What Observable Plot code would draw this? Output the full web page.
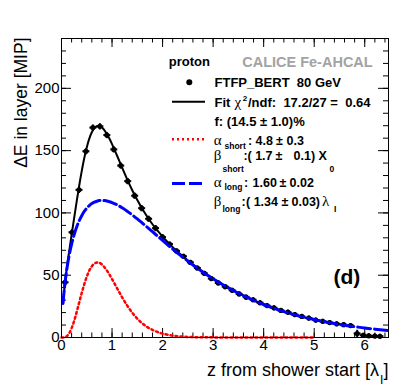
<!DOCTYPE html>
<html><head><meta charset="utf-8">
<script src="https://cdn.jsdelivr.net/npm/d3@7"></script>
<script src="https://cdn.jsdelivr.net/npm/@observablehq/plot@0.6"></script>
<style>
body{margin:0;background:#fff}
svg text{white-space:pre}
</style>
</head><body><div id="chart"></div>
<script>
// ---- data ----
const pointZ = [0.07,0.208,0.346,0.483,0.621,0.759,0.897,1.035,1.172,1.310,1.448,1.586,1.724,1.861,1.999,2.137,2.275,2.413,2.550,2.688,2.826,2.964,3.102,3.239,3.377,3.515,3.653,3.791,3.928,4.066,4.204,4.342,4.480,4.617,4.755,4.893,5.031,5.169,5.306,5.444,5.582,5.720,5.85,5.97,6.08,6.20,6.30];
const pointE = [44.3,84.5,118.5,149.5,168.5,169.5,162.5,151.0,138.0,125.5,113.8,103.8,95.3,87.8,80.6,75.0,69.5,65.2,60.3,55.8,51.5,47.3,43.8,40.8,37.9,35.0,32.4,30.3,27.9,25.6,23.8,21.7,20.3,18.4,16.9,15.6,14.0,13.0,12.0,11.0,10.3,9.6,3.2,1.8,1.4,1.2,1.0];
const pointErr = [2.5,2.5,2.5,2.5,2.5,2.5,2.5,2.5,2.5,2.5,2.5,2.5,2.5,2.5,2.5,2,2,2,2,2,2,2,2,2,2,2,2,2,2,2,2,2,2,2,2,2,2,2,2,2,2,2,3,2,2,2,2];
const binHalfWidth = 0.069;

const fitZ = [0.03,0.05,0.1,0.15,0.2,0.25,0.3,0.35,0.4,0.45,0.5,0.55,0.6,0.65,0.7,0.75,0.8,0.85,0.9,0.95,1.0,1.1,1.2,1.3,1.4,1.5,1.6,1.7,1.8,1.9,2.0,2.2,2.4,2.6,2.8,3.0,3.2,3.4,3.6,3.8,4.0,4.2,4.4,4.6,4.8,5.0,5.2,5.4,5.6,5.72];
const fitE = [27.3,36.6,54.2,68.7,82.4,95.9,109.1,121.8,133.5,143.9,152.6,159.6,164.7,168.0,169.6,169.7,168.6,166.3,163.2,159.5,155.2,145.9,136.3,126.9,118.2,110.3,103.1,96.7,90.9,85.7,81.0,72.5,65.2,58.6,52.6,47.2,42.2,37.7,33.6,29.9,26.5,23.5,20.8,18.4,16.3,14.4,12.7,11.2,9.8,9.1];

const longZ = [0.03,0.05,0.1,0.15,0.2,0.25,0.3,0.35,0.4,0.45,0.5,0.55,0.6,0.65,0.7,0.75,0.8,0.85,0.9,0.95,1.0,1.1,1.2,1.3,1.4,1.5,1.6,1.7,1.8,1.9,2.0,2.2,2.4,2.6,2.8,3.0,3.2,3.4,3.6,3.8,4.0,4.2,4.4,4.6,4.8,5.0,5.2,5.4,5.6,5.8,6.0,6.2,6.45];
const longE = [27.3,36.5,53.3,65.5,74.9,82.5,88.7,93.7,97.8,101.2,103.8,105.9,107.5,108.6,109.4,109.9,110.0,109.9,109.6,109.0,108.3,106.5,104.1,101.4,98.4,95.2,91.8,88.4,84.9,81.4,77.9,71.0,64.5,58.2,52.4,47.1,42.2,37.7,33.6,29.9,26.5,23.5,20.8,18.4,16.3,14.4,12.7,11.2,9.8,8.7,7.6,6.7,5.7];

const shortZ = [0,0.05,0.1,0.15,0.2,0.25,0.3,0.35,0.4,0.45,0.5,0.55,0.6,0.65,0.7,0.75,0.8,0.85,0.9,0.95,1.0,1.1,1.2,1.3,1.4,1.5,1.6,1.7,1.8,1.9,2.0,2.2,2.4,2.6,2.8,3.0,3.5,4.0,4.5,5.0];
const shortE = [0,0.1,0.9,3.3,7.5,13.3,20.4,28.1,35.7,42.7,48.8,53.7,57.2,59.3,60.2,59.9,58.6,56.4,53.7,50.4,46.9,39.5,32.2,25.6,19.9,15.1,11.3,8.3,6.1,4.4,3.1,1.5,0.7,0.3,0.2,0.1,0,0,0,0];

const xTickLabels = [0,1,2,3,4,5,6];
const yTickLabels = [0,50,100,150,200];
const xTitle = "z from shower start [λ";
const xTitleSub = "I";
const yTitle = "ΔE in layer [MIP]";
const panelLabel = "(d)";

// ---- layout ----
const W = 409, H = 392, mL = 61, mR = 21, mT = 38, mB = 55;
const pW = W - mL - mR, pH = H - mT - mB;
const SANS = "Liberation Sans, Arial, Helvetica, sans-serif";
const SERIF = "Liberation Serif, DejaVu Serif, serif";

const points = pointZ.map((z, i) => ({z, e: pointE[i], err: pointErr[i]}));
const fit = fitZ.map((z, i) => ({z, e: fitE[i]}));
const long = longZ.map((z, i) => ({z, e: longE[i]}));
const short = shortZ.map((z, i) => ({z, e: shortE[i]}));

const xMajor = xTickLabels;
const xMinor = d3.range(0, 6.47, 0.2);
const yMajor = d3.range(0, 241, 50);
const yMinor = d3.range(0, 241, 10);

function label(str, px, py, o = {}) {
  return Plot.text([str], {
    frameAnchor: "top-left", dx: px - mL, dy: py - mT, text: d => d,
    textAnchor: o.anchor || "start", lineAnchor: "bottom",
    fontSize: o.size || 13, fontWeight: o.weight || "bold",
    fontFamily: o.family || SANS, fill: o.fill || "black", rotate: o.rotate || 0
  });
}
const B = {size: 13, weight: "bold"};
const V = {size: 12.5, weight: "bold"};
const G = {size: 15, weight: "normal", family: SERIF};
const S = {size: 8.5, weight: "bold"};

const chart = Plot.plot({
  width: W, height: H,
  marginLeft: mL, marginRight: mR, marginTop: mT, marginBottom: mB,
  x: {domain: [0, 6.47]},
  y: {domain: [0, 240]},
  style: {fontFamily: SANS, fontSize: "15px", color: "black", background: "white", overflow: "visible"},
  marks: [
    Plot.tickX(xMajor, {x: d => d, insetTop: pH - 9, stroke: "black"}),
    Plot.tickX(xMinor, {x: d => d, insetTop: pH - 4.5, stroke: "black"}),
    Plot.tickX(xMajor, {x: d => d, insetBottom: pH - 9, stroke: "black"}),
    Plot.tickX(xMinor, {x: d => d, insetBottom: pH - 4.5, stroke: "black"}),
    Plot.tickY(yMajor, {y: d => d, insetRight: pW - 10, stroke: "black"}),
    Plot.tickY(yMinor, {y: d => d, insetRight: pW - 5, stroke: "black"}),
    Plot.tickY(yMajor, {y: d => d, insetLeft: pW - 10, stroke: "black"}),
    Plot.tickY(yMinor, {y: d => d, insetLeft: pW - 5, stroke: "black"}),
    Plot.axisX({ticks: xTickLabels, tickSize: 0, tickPadding: 1.5, fontSize: 15, label: null, tickFormat: d => String(d)}),
    Plot.axisY({ticks: yTickLabels, tickSize: 0, tickPadding: 2, fontSize: 15, label: null, tickFormat: d => String(d)}),
    Plot.link(points, {x1: d => d.z - binHalfWidth, x2: d => d.z + binHalfWidth, y1: "e", y2: "e", stroke: "black", strokeWidth: 2}),
    Plot.link(points, {x1: "z", x2: "z", y1: d => d.e - d.err, y2: d => d.e + d.err, stroke: "black", strokeWidth: 2}),
    Plot.dot(points, {x: "z", y: "e", r: 2.6, fill: "black"}),
    Plot.line(fit, {x: "z", y: "e", stroke: "black", strokeWidth: 2, curve: "catmull-rom", clip: true}),
    Plot.line(long, {x: "z", y: "e", stroke: "#0000ff", strokeWidth: 3, strokeDasharray: "13,4", curve: "catmull-rom", clip: true}),
    Plot.line(short, {x: "z", y: "e", stroke: "#ff0000", strokeWidth: 2.5, strokeDasharray: "2,3", curve: "catmull-rom"}),
    Plot.frame({stroke: "black", strokeWidth: 1}),
    label(yTitle, 26.5, 37, {size: 17.5, weight: "normal", anchor: "end", rotate: -90}),
    label(xTitle, 378.5, 375, {size: 18, weight: "normal", anchor: "end"}),
    label(xTitleSub, 379.5, 383, {size: 12, weight: "normal"}),
    label("]", 388, 375, {size: 18, weight: "normal", anchor: "end"}),
    label("proton", 168.3, 65.5, B),
    label("CALICE Fe-AHCAL", 241.7, 66, {size: 14.5, weight: "bold", fill: "#a3a3a3"}),
    label("FTFP_BERT  80 GeV", 214, 86.7, B),
    label("Fit", 214, 106, B),
    label("χ", 234, 106, G),
    label("2", 242.3, 100.5, {size: 8, weight: "bold"}),
    label("/ndf:  17.2/27 =  0.64", 247.5, 106, B),
    label("f: (14.5 ± 1.0)%", 214, 125.5, B),
    label("α", 213.3, 144.5, G),
    label("short", 224, 148.5, S),
    label(":", 247.5, 144.5, V),
    label("4.8", 255, 144.5, V),
    label("±", 275.5, 144.5, V),
    label("0.3", 286, 144.5, V),
    label("β", 213.3, 159, G),
    label("short", 222, 171, S),
    label(":", 243, 159, V),
    label("( 1.7", 247, 159, V),
    label("±", 275, 159, V),
    label("0.1) X", 293, 159, V),
    label("0", 329, 171, S),
    label("α", 213.3, 186, G),
    label("long", 224, 189.5, S),
    label(":", 243.5, 186, V),
    label("1.60", 252, 186, V),
    label("±", 279, 186, V),
    label("0.02", 289, 186, V),
    label("β", 213.3, 205, G),
    label("long", 222, 211.5, S),
    label(":", 241, 205, V),
    label("( 1.34", 245.5, 205, V),
    label("±", 281, 205, V),
    label("0.03)", 291, 205, V),
    label("λ", 321.5, 205, G),
    label("I", 333.5, 211.5, S),
    label(panelLabel, 333, 283, {size: 21, weight: "bold"})
  ]
});

const svg = d3.select(chart);
const lg = svg.append("g");
lg.append("circle").attr("cx", 189.3).attr("cy", 82.3).attr("r", 3).attr("fill", "black");
lg.append("line").attr("x1", 172).attr("x2", 205).attr("y1", 101.7).attr("y2", 101.7).attr("stroke", "black").attr("stroke-width", 2);
lg.append("line").attr("x1", 172).attr("x2", 205).attr("y1", 139.3).attr("y2", 139.3).attr("stroke", "#ff0000").attr("stroke-width", 2.5).attr("stroke-dasharray", "2,3");
lg.append("line").attr("x1", 172).attr("x2", 204).attr("y1", 183.5).attr("y2", 183.5).attr("stroke", "#0000ff").attr("stroke-width", 3).attr("stroke-dasharray", "13,4");

document.getElementById("chart").appendChild(chart);
</script>
</body></html>
